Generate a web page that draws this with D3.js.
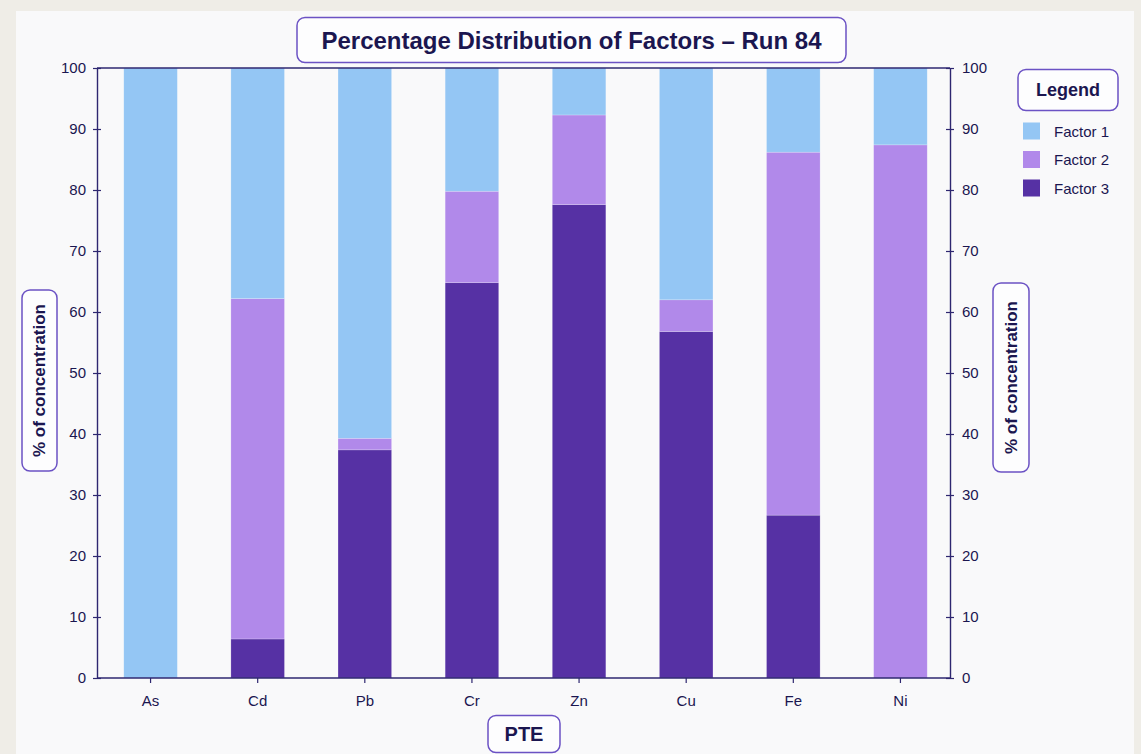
<!DOCTYPE html>
<html>
<head>
<meta charset="utf-8">
<script src="https://cdn.jsdelivr.net/npm/d3@7"></script>
<style>
  html, body { margin: 0; padding: 0; background: #efede7; }
  #chart { width: 1141px; height: 754px; }
  text { font-family: "Liberation Sans", Arial, sans-serif; }
</style>
</head>
<body>
<div id="chart"></div>
<script>
// Datos
const PTE = ["As", "Cd", "Pb", "Cr", "Zn", "Cu", "Fe", "Ni"];
const FACTORS = ["Factor 1", "Factor 2", "Factor 3"];
const factor1 = [100, 37.8, 60.7, 20.2, 7.7, 38.0, 13.8, 12.6];
const factor2 = [0, 55.8, 1.9, 15.0, 14.7, 5.2, 59.5, 87.4];
const factor3 = [0, 6.4, 37.4, 64.8, 77.6, 56.8, 26.7, 0];
const Y_TICKS = [0, 10, 20, 30, 40, 50, 60, 70, 80, 90, 100];

const W = 1141, H = 754;
const m = { left: 97, right: 191, top: 68, bottom: 76 };
const INK = "#1b1650", AXIS = "#2e2770", BOX = "#6b52c4";
const COLORS = { "Factor 1": "#94c6f4", "Factor 2": "#b189ea", "Factor 3": "#5631a4" };

const svg = d3.select("#chart").append("svg").attr("width", W).attr("height", H);

// panel
svg.append("rect").attr("x", 16).attr("y", 11).attr("width", 1118).attr("height", H - 11)
  .attr("fill", "#f9f9fa");

const x = d3.scaleBand().domain(PTE).range([m.left, W - m.right + 4]).paddingInner(0.5).paddingOuter(0.25);
const y = d3.scaleLinear().domain([0, 100]).range([H - m.bottom, m.top]);

// apilado: Factor 3 abajo, luego Factor 2, Factor 1 arriba
const rows = PTE.map((p, i) => ({ pte: p, "Factor 1": factor1[i], "Factor 2": factor2[i], "Factor 3": factor3[i] }));
const stack = d3.stack().keys(["Factor 3", "Factor 2", "Factor 1"])(rows);

const g = svg.append("g");
g.selectAll("g.layer").data(stack).join("g")
  .attr("class", "layer")
  .attr("fill", d => COLORS[d.key])
  .selectAll("rect").data(d => d.filter(s => s[1] - s[0] > 0)).join("rect")
    .attr("x", d => x(d.data.pte))
    .attr("width", x.bandwidth())
    .attr("y", d => y(d[1]))
    .attr("height", d => y(d[0]) - y(d[1]))
    .attr("stroke", "#ffffff").attr("stroke-opacity", 0.35).attr("stroke-width", 0.6);

// ejes
const styleAxis = sel => {
  sel.select(".domain").attr("stroke", AXIS).attr("stroke-width", 1.4);
  sel.selectAll(".tick line").attr("stroke", AXIS).attr("stroke-width", 1.2);
  sel.selectAll(".tick text").attr("fill", INK).attr("font-size", 15)
    .attr("font-family", "'Liberation Sans', Arial, sans-serif");
};

const yl = svg.append("g").attr("transform", `translate(${m.left},0)`)
  .call(d3.axisLeft(y).tickValues(Y_TICKS).tickSize(4).tickPadding(7).tickSizeOuter(0));
yl.selectAll(".tick line").attr("x2", 4).attr("x1", -4);
styleAxis(yl);

const yr = svg.append("g").attr("transform", `translate(${W - m.right},0)`)
  .call(d3.axisRight(y).tickValues(Y_TICKS).tickSize(4).tickPadding(8).tickSizeOuter(0));
yr.selectAll(".tick line").attr("x2", 4).attr("x1", -4);
styleAxis(yr);

const xa = svg.append("g").attr("transform", `translate(0,${H - m.bottom})`)
  .call(d3.axisBottom(x).tickSize(5).tickPadding(12).tickSizeOuter(0));
xa.select(".domain").attr("d", `M${m.left},0H${W - m.right}`);
styleAxis(xa);

// línea superior
svg.append("line").attr("x1", m.left).attr("x2", W - m.right).attr("y1", m.top).attr("y2", m.top)
  .attr("stroke", AXIS).attr("stroke-width", 1.4);

// cajas con texto
function labelBox(cx, cy, w, h, text, size, rotate) {
  const gg = svg.append("g").attr("transform", `translate(${cx},${cy}) rotate(${rotate || 0})`);
  gg.append("rect").attr("x", -w / 2).attr("y", -h / 2).attr("width", w).attr("height", h)
    .attr("rx", 8).attr("fill", "#fdfdfe").attr("stroke", BOX).attr("stroke-width", 1.5);
  gg.append("text").attr("text-anchor", "middle").attr("dominant-baseline", "central")
    .attr("font-family", "Inter, 'Open Sans', sans-serif").attr("font-weight", 700)
    .attr("font-size", size).attr("fill", INK).text(text);
}

labelBox(571.5, 40, 549, 45, "Percentage Distribution of Factors – Run 84", 24);
labelBox(524, 734, 72, 37, "PTE", 20);
labelBox(39.5, 380.5, 181, 35, "% of concentration", 17, -90);
labelBox(1011, 377.5, 189, 36, "% of concentration", 17, -90);
labelBox(1068, 90, 100, 41, "Legend", 18);

// leyenda
const leg = svg.append("g").selectAll("g").data(FACTORS).join("g")
  .attr("transform", (d, i) => `translate(1023,${131 + i * 28.5})`);
leg.append("rect").attr("x", 0).attr("y", -8.5).attr("width", 17).attr("height", 17)
  .attr("fill", d => COLORS[d]);
leg.append("text").attr("x", 31).attr("dominant-baseline", "central")
  .attr("font-size", 15).attr("fill", INK).text(d => d);
</script>
</body>
</html>
